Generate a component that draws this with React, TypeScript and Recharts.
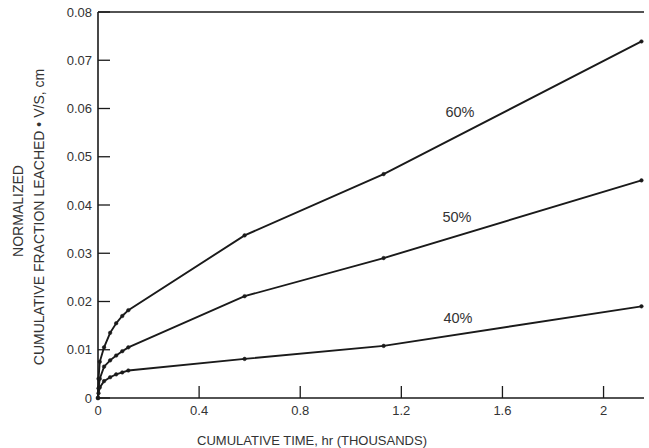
import { LineChart, Line, XAxis, YAxis, ReferenceLine, ReferenceDot } from 'recharts'

// cumulative time, thousands of hours
const TIME = [0, 0.002, 0.007, 0.024, 0.048, 0.072, 0.096, 0.12, 0.58, 1.13, 2.15]
const S60 = [0, 0.004, 0.0075, 0.0105, 0.0135, 0.0155, 0.017, 0.0182, 0.0337, 0.0464, 0.0739]
const S50 = [0, 0.002, 0.004, 0.0065, 0.0078, 0.0088, 0.0097, 0.0105, 0.0211, 0.029, 0.0451]
const S40 = [0, 0.001, 0.0022, 0.0035, 0.0043, 0.0049, 0.0053, 0.0057, 0.0081, 0.0108, 0.019]

const X_TICKS = [0, 0.4, 0.8, 1.2, 1.6, 2]
const Y_TICKS = [0, 0.01, 0.02, 0.03, 0.04, 0.05, 0.06, 0.07, 0.08]

const data = TIME.map((t, i) => ({ t, s60: S60[i], s50: S50[i], s40: S40[i] }))

const INK = '#1a1a1a'
const TEXT = '#333'
const FONT = '"Liberation Sans", Arial, sans-serif'

function YTick(props: any) {
  const { x, y, payload } = props
  const v = payload.value
  return (
    <g>
      <line x1={x + 6} x2={x + 18} y1={y} y2={y} stroke={INK} strokeWidth={1.3} />
      <text x={x} y={y} dy={4.5} textAnchor="end" fontSize={13} fill={TEXT} fontFamily={FONT}>
        {v === 0 ? '0' : v.toFixed(2)}
      </text>
    </g>
  )
}

function XTick(props: any) {
  const { x, y, payload } = props
  return (
    <g>
      <line x1={x} x2={x} y1={y - 6} y2={y - 18} stroke={INK} strokeWidth={1.3} />
      <text x={x} y={y} dy={11} textAnchor="middle" fontSize={13} fill={TEXT} fontFamily={FONT}>
        {String(payload.value)}
      </text>
    </g>
  )
}

function YLabel() {
  return (
    <g fontSize={14} fill={TEXT} fontFamily={FONT}>
      <text x={0} y={0} transform="translate(23,211) rotate(-90)" textAnchor="middle">NORMALIZED</text>
      <text x={0} y={0} transform="translate(44,217) rotate(-90)" textAnchor="middle">
        CUMULATIVE FRACTION LEACHED • V/S, cm
      </text>
    </g>
  )
}

function XLabel() {
  return (
    <text x={312} y={445} textAnchor="middle" fontSize={13} fill={TEXT} fontFamily={FONT}>
      CUMULATIVE TIME, hr (THOUSANDS)
    </text>
  )
}

const dot = { r: 1.8, fill: INK, stroke: INK, strokeWidth: 0.5 }
const pctLabel = { fontSize: 14.5, fill: TEXT, fontFamily: FONT }

export default function App() {
  return (
    <div style={{ position: 'absolute', left: 0, top: 0, background: '#fff' }}>
      <LineChart width={649} height={448} data={data} margin={{ top: 12, right: 5, bottom: 10, left: 0 }}>
        <XAxis
          dataKey="t"
          type="number"
          domain={[0, 2.16]}
          ticks={X_TICKS}
          tickLine={false}
          tickSize={0}
          tickMargin={6}
          axisLine={{ stroke: INK, strokeWidth: 1.6 }}
          tick={<XTick />}
          height={40}
          label={<XLabel />}
        />
        <YAxis
          type="number"
          domain={[0, 0.08]}
          ticks={Y_TICKS}
          tickLine={false}
          tickSize={0}
          tickMargin={6}
          axisLine={{ stroke: INK, strokeWidth: 1.6 }}
          tick={<YTick />}
          width={98}
          label={<YLabel />}
        />
        <ReferenceLine y={0.08} stroke={INK} strokeWidth={1.6} />
        <Line dataKey="s60" stroke={INK} strokeWidth={1.9} dot={dot} isAnimationActive={false} />
        <Line dataKey="s50" stroke={INK} strokeWidth={1.9} dot={dot} isAnimationActive={false} />
        <Line dataKey="s40" stroke={INK} strokeWidth={1.9} dot={dot} isAnimationActive={false} />
        <ReferenceDot x={1.432} y={0.0593} r={0} label={{ value: '60%', ...pctLabel }} />
        <ReferenceDot x={1.42} y={0.0375} r={0} label={{ value: '50%', ...pctLabel }} />
        <ReferenceDot x={1.424} y={0.0166} r={0} label={{ value: '40%', ...pctLabel }} />
      </LineChart>
    </div>
  )
}
